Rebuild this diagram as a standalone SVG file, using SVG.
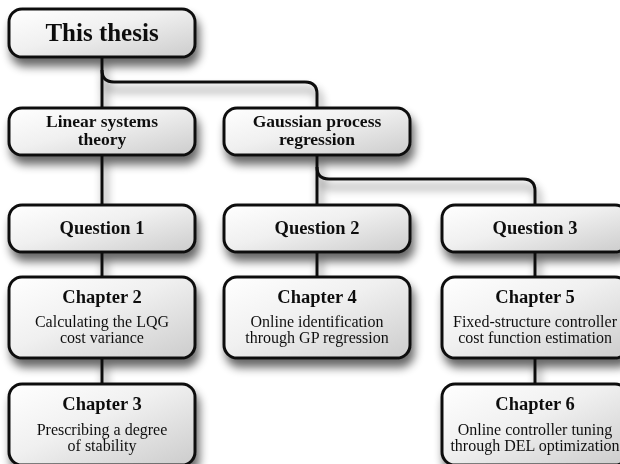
<svg xmlns="http://www.w3.org/2000/svg" width="620" height="464" viewBox="0 0 620 464">
<defs>
<linearGradient id="boxfill" x1="0" y1="0" x2="1" y2="1">
<stop offset="0" stop-color="#ffffff"/>
<stop offset="0.45" stop-color="#f0f0f0"/>
<stop offset="1" stop-color="#cccccc"/>
</linearGradient>
<filter id="shadow" filterUnits="userSpaceOnUse" x="-30" y="-30" width="700" height="540">
<feGaussianBlur in="SourceAlpha" stdDeviation="5"/>
<feOffset dx="3" dy="8" result="b"/>
<feComponentTransfer><feFuncA type="linear" slope="0.6"/></feComponentTransfer>
<feMerge><feMergeNode/><feMergeNode in="SourceGraphic"/></feMerge>
</filter>
<style>
.box{fill:url(#boxfill);stroke:#111;stroke-width:3}
.conn{fill:none;stroke:#111;stroke-width:3}
text{font-family:"Liberation Serif","Times New Roman",serif;fill:#111;text-anchor:middle}
.title{font-size:25px;font-weight:bold}
.head{font-size:18.5px;font-weight:bold}
.head2{font-size:17.5px;font-weight:bold}
.sub{font-size:16px}
</style>
</defs>
<rect width="620" height="464" fill="#ffffff"/>
<g filter="url(#shadow)">
<g id="connectors" class="conn">
<path d="M102,57 V108"/>
<path d="M102,70 Q102,82 114,82 H305 Q317,82 317,94 V108"/>
<path d="M102,155 V205"/>
<path d="M102,252 V277"/>
<path d="M102,358 V384"/>
<path d="M317,155 V205"/>
<path d="M317,167 Q317,179 329,179 H523 Q535,179 535,191 V205"/>
<path d="M317,252 V277"/>
<path d="M535,252 V277"/>
<path d="M535,358 V384"/>
</g>
<g id="thesis"><rect class="box" x="9" y="9" width="186" height="48" rx="13"/><text class="title" x="102" y="41">This thesis</text></g>
<g id="linear"><rect class="box" x="9" y="108" width="186" height="47" rx="13"/><text class="head2" x="102" y="126.5">Linear systems<tspan x="102" dy="18.5">theory</tspan></text></g>
<g id="gaussian"><rect class="box" x="224" y="108" width="186" height="47" rx="13"/><text class="head2" x="317" y="126.5">Gaussian process<tspan x="317" dy="18.5">regression</tspan></text></g>
<g id="q1"><rect class="box" x="9" y="205" width="186" height="47" rx="13"/><text class="head" x="102" y="234">Question 1</text></g>
<g id="q2"><rect class="box" x="224" y="205" width="186" height="47" rx="13"/><text class="head" x="317" y="234">Question 2</text></g>
<g id="q3"><rect class="box" x="442" y="205" width="186" height="47" rx="13"/><text class="head" x="535" y="234">Question 3</text></g>
<g id="ch2"><rect class="box" x="9" y="277" width="186" height="81" rx="13"/><text class="head" x="102" y="303">Chapter 2</text><text class="sub" x="102" y="327">Calculating the LQG<tspan x="102" dy="16">cost variance</tspan></text></g>
<g id="ch4"><rect class="box" x="224" y="277" width="186" height="81" rx="13"/><text class="head" x="317" y="303">Chapter 4</text><text class="sub" x="317" y="327">Online identification<tspan x="317" dy="16">through GP regression</tspan></text></g>
<g id="ch5"><rect class="box" x="442" y="277" width="186" height="81" rx="13"/><text class="head" x="535" y="303">Chapter 5</text><text class="sub" x="535" y="327">Fixed-structure controller<tspan x="535" dy="16">cost function estimation</tspan></text></g>
<g id="ch3"><rect class="box" x="9" y="384" width="186" height="81" rx="13"/><text class="head" x="102" y="410">Chapter 3</text><text class="sub" x="102" y="435">Prescribing a degree<tspan x="102" dy="16">of stability</tspan></text></g>
<g id="ch6"><rect class="box" x="442" y="384" width="186" height="81" rx="13"/><text class="head" x="535" y="410">Chapter 6</text><text class="sub" x="535" y="435">Online controller tuning<tspan x="535" dy="16">through DEL optimization</tspan></text></g>
</g>
</svg>
